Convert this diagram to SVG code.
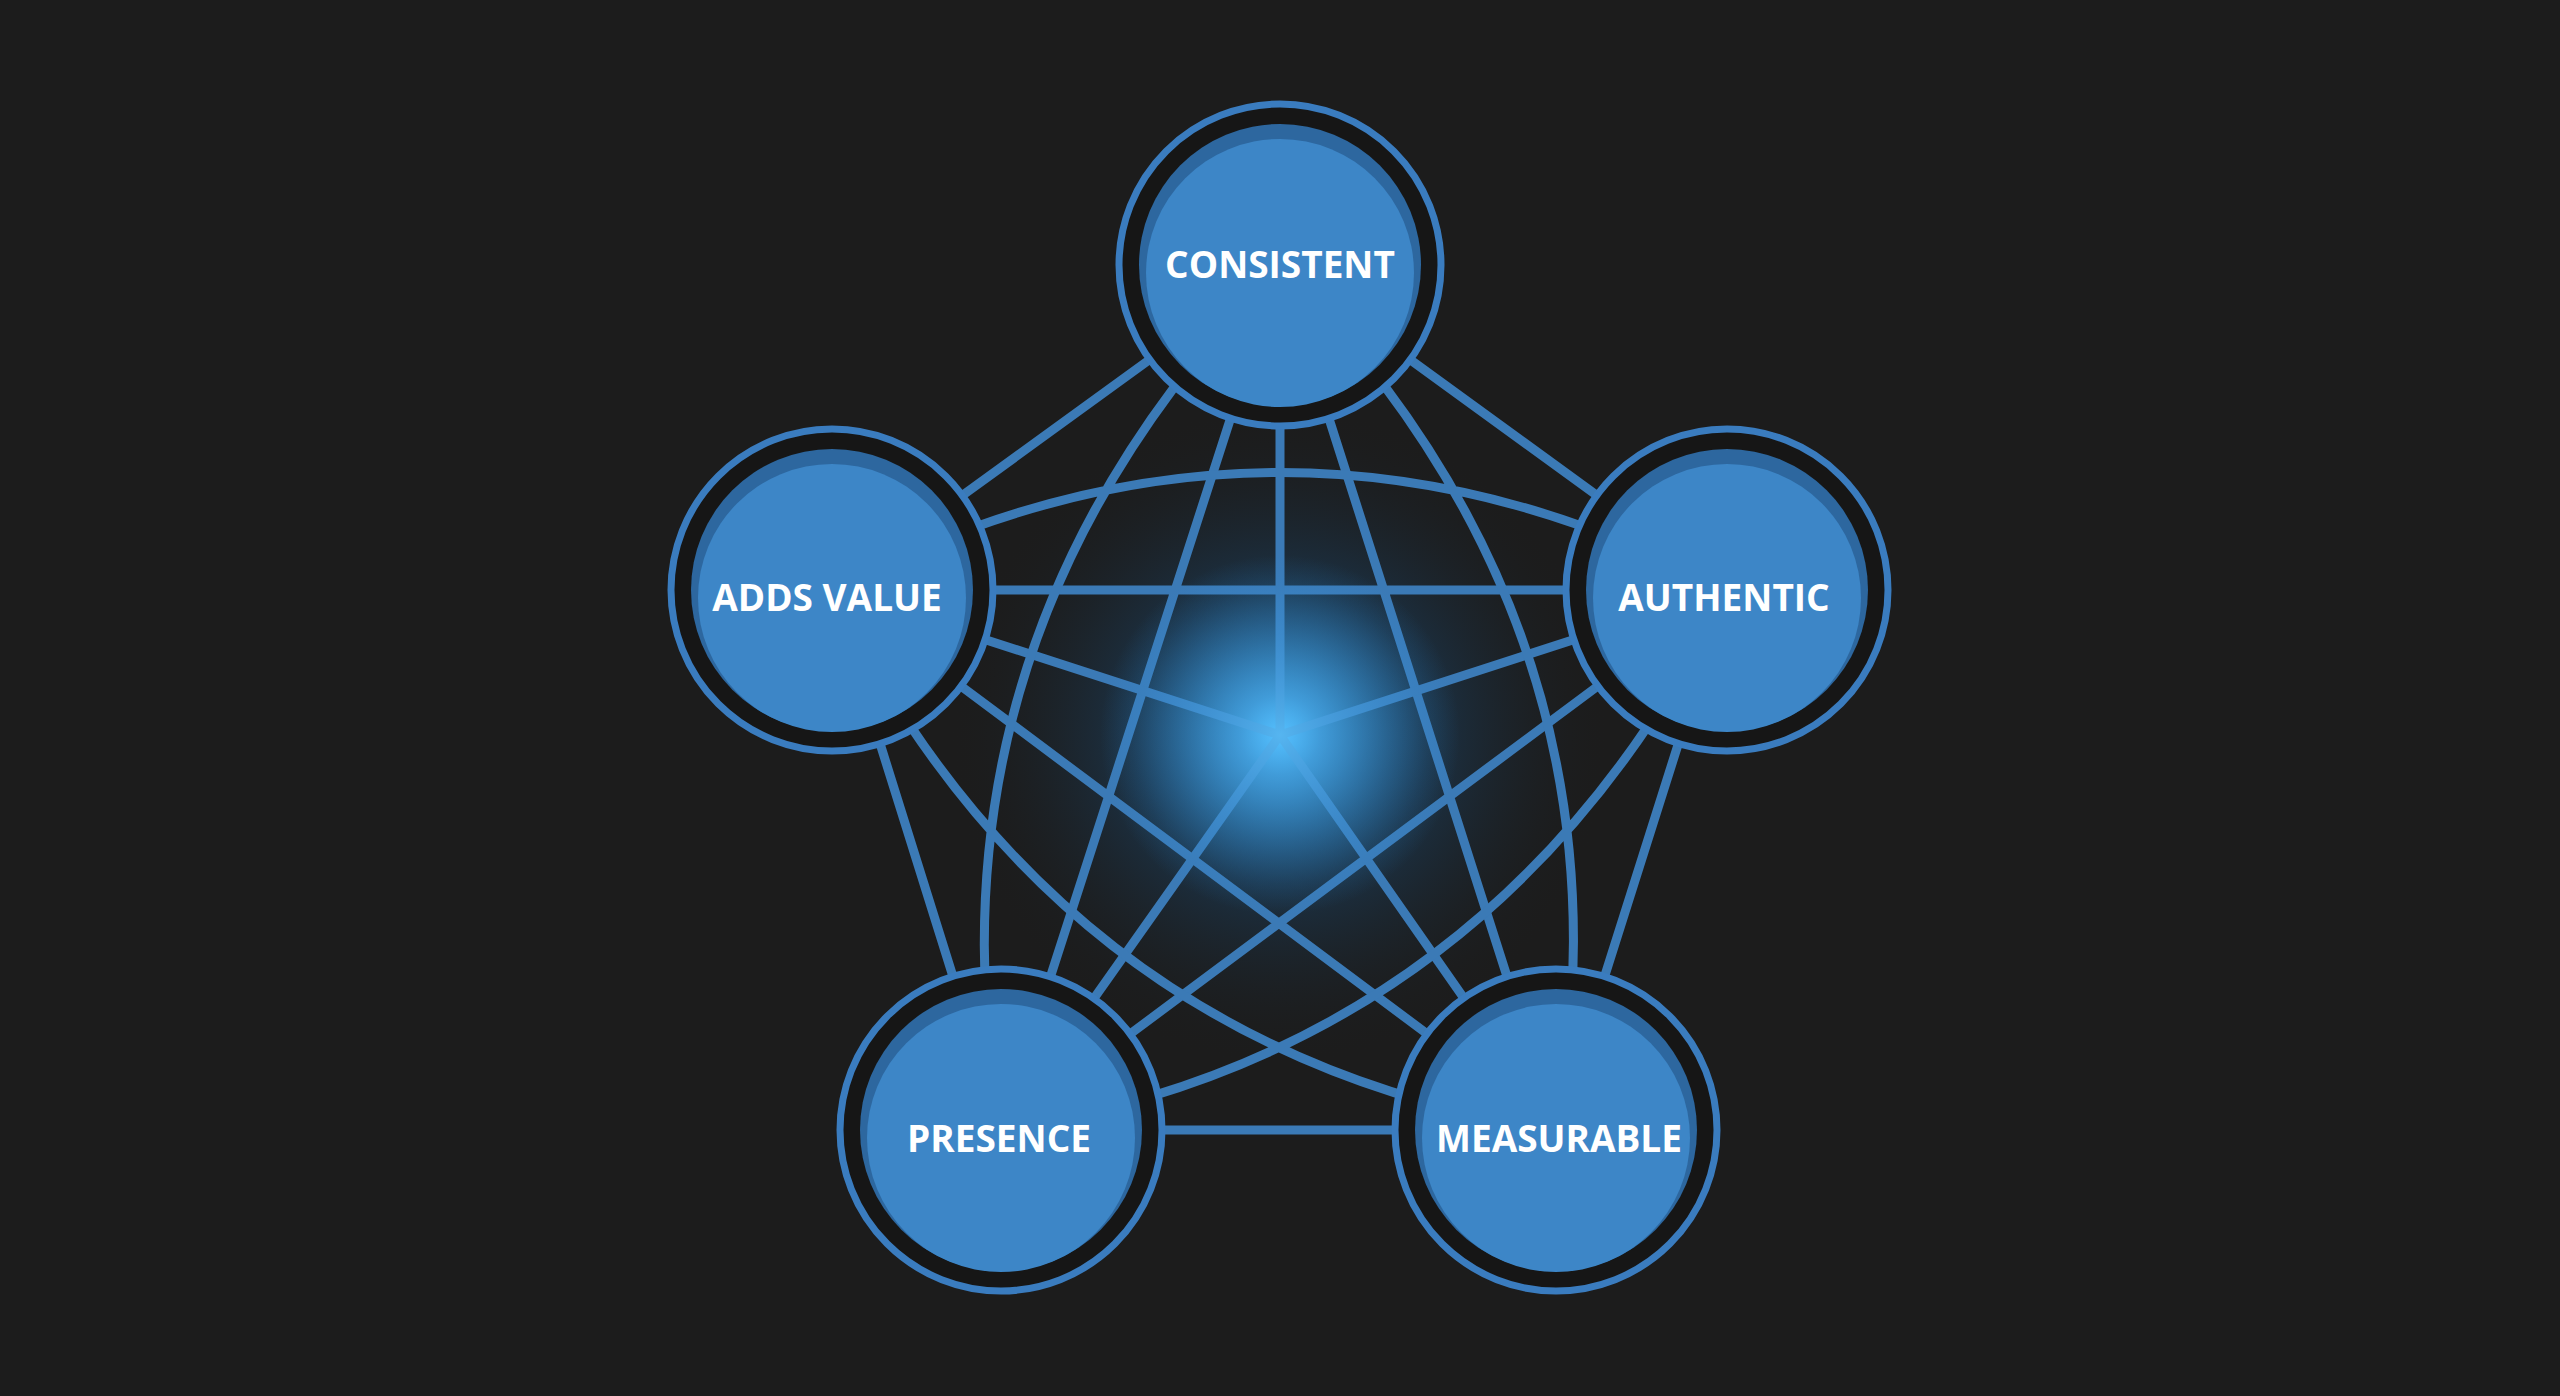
<svg xmlns="http://www.w3.org/2000/svg" width="2560" height="1396" viewBox="0 0 2560 1396">
<defs>
<radialGradient id="glow" cx="1280" cy="735" r="330" gradientUnits="userSpaceOnUse">
<stop offset="0" stop-color="#39b2ff" stop-opacity="0.95"/>
<stop offset="0.12" stop-color="#2a8fe0" stop-opacity="0.7"/>
<stop offset="0.45" stop-color="#1a5a92" stop-opacity="0.35"/>
<stop offset="1" stop-color="#1c1c1c" stop-opacity="0"/>
</radialGradient>
<radialGradient id="shine" cx="1280" cy="735" r="180" gradientUnits="userSpaceOnUse">
<stop offset="0" stop-color="#5cc4ff" stop-opacity="0.8"/>
<stop offset="1" stop-color="#2a8fe0" stop-opacity="0"/>
</radialGradient>
<g id="nodeShape">
<circle r="161" fill="#161616" stroke="#3a7cbf" stroke-width="7"/>
<circle r="141" fill="#2d679f"/>
<circle cy="8" r="134" fill="#3d86c7"/>
</g>
</defs>
<style>
.ln{fill:none;stroke:#3b7ab6;stroke-width:9;stroke-linecap:round}
.lbl{font-family:"Open Sans","Noto Sans","Liberation Sans",sans-serif;font-weight:700;font-size:37px;fill:#ffffff;text-anchor:middle}
</style>
<rect width="2560" height="1396" fill="#1c1c1c"/>
<circle cx="1280" cy="735" r="330" fill="url(#glow)"/>
<g id="connectors">
<path class="ln" d="M1280 265L1727 590L1556 1130L1001 1130L832 590Z"/>
<path class="ln" d="M1280 265L1556 1130M1280 265L1001 1130M832 590L1727 590M832 590L1556 1130M1727 590L1001 1130"/>
<path class="ln" d="M1280 735L1280 265M1280 735L1727 590M1280 735L1556 1130M1280 735L1001 1130M1280 735L832 590"/>
<path class="ln" d="M832 590Q1280 355 1727 590M1280 265Q914 636 1001 1130M1280 265Q1645 636 1556 1130M1727 590Q1495 1055 1001 1130M832 590Q1061 1054 1556 1130"/>
</g>
<circle cx="1280" cy="735" r="180" fill="url(#shine)"/>
<g id="node-consistent"><use href="#nodeShape" x="1280" y="265"/><text class="lbl" x="1280" y="278">CONSISTENT</text></g>
<g id="node-authentic"><use href="#nodeShape" x="1727" y="590"/><text class="lbl" x="1724" y="611">AUTHENTIC</text></g>
<g id="node-measurable"><use href="#nodeShape" x="1556" y="1130"/><text class="lbl" x="1559" y="1152">MEASURABLE</text></g>
<g id="node-presence"><use href="#nodeShape" x="1001" y="1130"/><text class="lbl" x="999" y="1152">PRESENCE</text></g>
<g id="node-addsvalue"><use href="#nodeShape" x="832" y="590"/><text class="lbl" x="827" y="611">ADDS VALUE</text></g>
</svg>
